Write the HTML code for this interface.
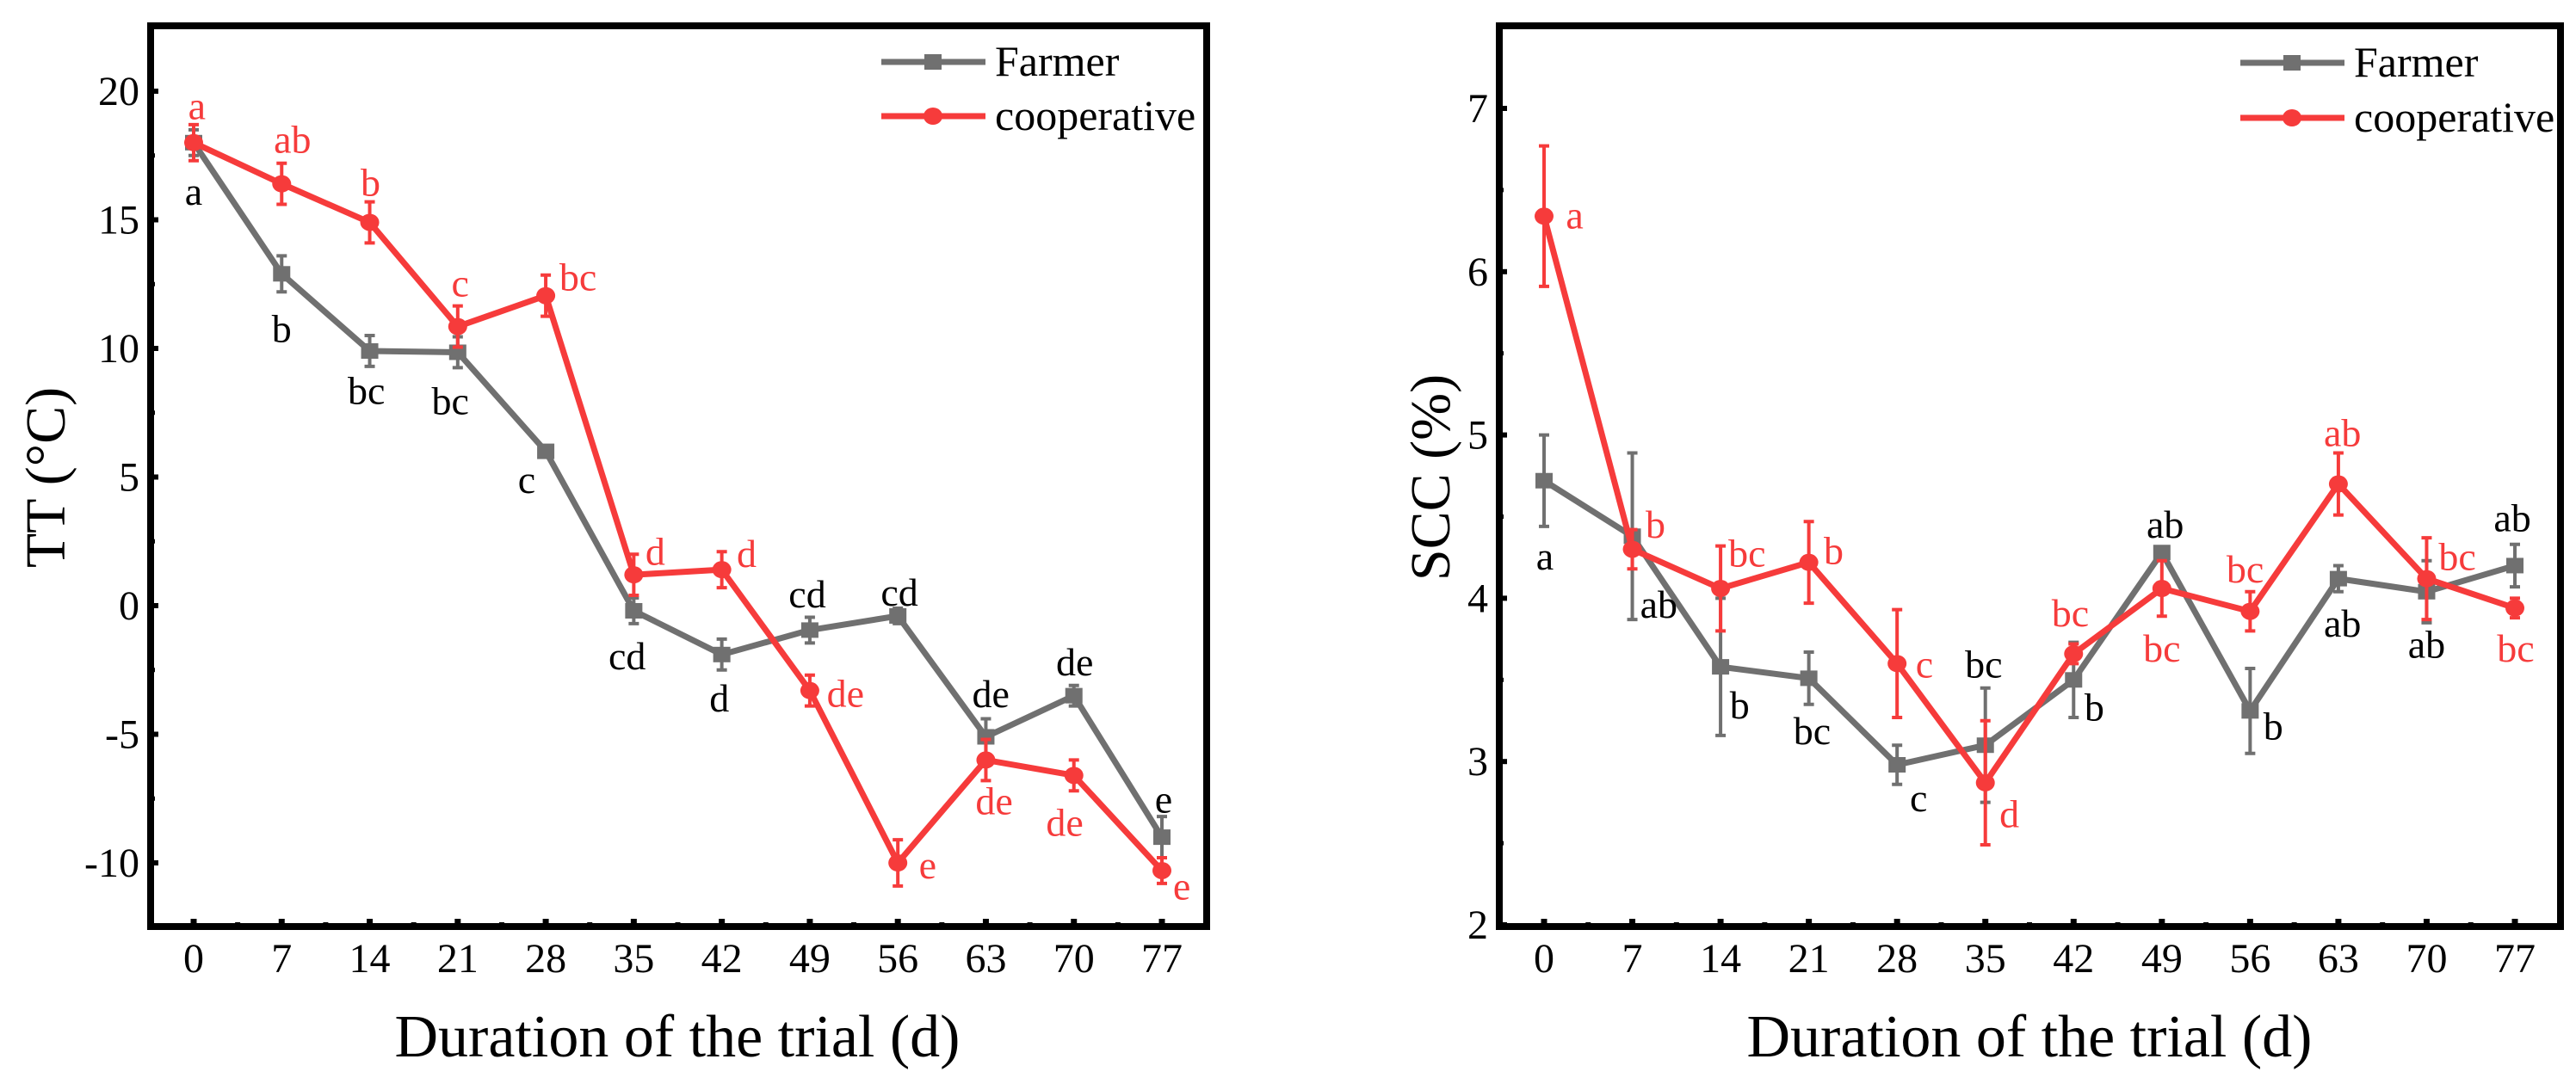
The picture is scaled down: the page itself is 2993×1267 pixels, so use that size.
<!DOCTYPE html>
<html><head><meta charset="utf-8"><style>
html,body{margin:0;padding:0;background:#fff;}
svg, svg text{font-family:"Liberation Serif","Times New Roman",serif;}
</style></head><body>
<svg id="chart" width="2993" height="1262" viewBox="0 0 2993 1262" xmlns="http://www.w3.org/2000/svg" font-family="Liberation Serif, serif"></svg>
<script>
const days = [0,7,14,21,28,35,42,49,56,63,70,77];
// Left panel: TT (°C)
const ttFarmer = [18,12.9,9.9,9.85,6,-0.2,-1.9,-0.95,-0.4,-5.1,-3.5,-9];
const ttFarmerErr = [0.5,0.7,0.6,0.6,0.2,0.5,0.6,0.5,0.3,0.7,0.4,0.8];
const ttCoop = [18,16.4,14.9,10.85,12.05,1.2,1.4,-3.3,-10,-6,-6.6,-10.3];
const ttCoopErr = [0.7,0.8,0.8,0.8,0.8,0.8,0.7,0.6,0.9,0.8,0.6,0.5];
const ttFarmerLetters = ["a","b","bc","bc","c","cd","d","cd","cd","de","de","e"];
const ttCoopLetters = ["a","ab","b","c","bc","d","d","de","e","de","de","e"];
const ttTicks = [-10,-5,0,5,10,15,20];
// Right panel: SCC (%)
const sccFarmer = [4.72,4.38,3.58,3.51,2.98,3.1,3.5,4.28,3.31,4.12,4.04,4.2];
const sccFarmerErr = [0.28,0.51,0.42,0.16,0.12,0.35,0.23,0.03,0.26,0.08,0.19,0.13];
const sccCoop = [6.34,4.3,4.06,4.22,3.6,2.87,3.66,4.06,3.92,4.7,4.12,3.94];
const sccCoopErr = [0.43,0.12,0.26,0.25,0.33,0.38,0.06,0.17,0.12,0.19,0.25,0.06];
const sccFarmerLetters = ["a","ab","b","bc","c","bc","b","ab","b","ab","ab","ab"];
const sccCoopLetters = ["a","b","bc","b","c","d","bc","bc","bc","ab","bc","bc"];
const sccTicks = [2,3,4,5,6,7];

// label offsets (layout, not data)
const OFF = {
 ttF:[[0,72],[0,81],[-4,59],[-9,72],[-23,43],[-8,67],[-3,65],[-3,-50],[2,-32],[6,-60],[1,-47],[2,-53]],
 ttC:[[4,-51],[13,-62],[1,-56],[3,-61],[39,-25],[26,-32],[30,-21],[43,6],[36,5],[10,61],[-11,70],[24,24]],
 sF:[[1,111],[32,100],[23,57],[4,78],[26,50],[-2,-115],[25,41],[4,-39],[28,24],[5,66],[0,78],[-3,-67]],
 sC:[[37,0],[28,-34],[32,-49],[30,-15],[33,3],[29,47],[-4,-57],[0,88],[-6,-59],[5,-72],[37,-30],[1,60]]
};
const SX=0.962, SY=0.805;
const FONT='Liberation Serif, Times New Roman, serif';
const svg=document.getElementById('chart');
const NS='http://www.w3.org/2000/svg';
function mk(tag,attrs,parent){const e=document.createElementNS(NS,tag);for(const k in attrs)e.setAttribute(k,attrs[k]);if(tag==='text')e.setAttribute('font-family',FONT);(parent||svg).appendChild(e);return e;}
const GREY='#707070', RED='#f63b3b';

function panel(cfg){
  const g=mk('g',{});
  
  
  const xS=d=>cfg.x0+(d-0)*(cfg.x77-cfg.x0)/77;
  const yS=v=>cfg.yA+(v-cfg.vA)*(cfg.yB-cfg.yA)/(cfg.vB-cfg.vA);
  cfg.ticks.forEach((t,i)=>{
    const y=yS(t);
    const tk=mk('line',{x1:cfg.L,x2:cfg.L+9,y1:y,y2:y,stroke:'#000','stroke-width':6},g);
    
    
    const lb=mk('text',{x:cfg.ylabX,y:y+16,'text-anchor':'end','font-size':48},g);
    lb.textContent=(t<0?'-'+Math.abs(t):t);
    
    
    if(i<cfg.ticks.length-1){
      const ym=yS((t+cfg.ticks[i+1])/2);
      const mt=mk('line',{x1:cfg.L,x2:cfg.L+5,y1:ym,y2:ym,stroke:'#000','stroke-width':5},g);
      
      
    }
  });
  days.forEach((d,i)=>{
    const x=xS(d);
    const tk=mk('line',{x1:x,x2:x,y1:cfg.B,y2:cfg.B-9,stroke:'#000','stroke-width':7},g);
    
    
    const lb=mk('text',{x:x,y:1130,'text-anchor':'middle','font-size':48},g);
    lb.textContent=d;
    
    
    if(i<days.length-1){
      const xm=xS(d+3.5);
      const mt=mk('line',{x1:xm,x2:xm,y1:cfg.B,y2:cfg.B-5,stroke:'#000','stroke-width':6},g);
      
      
    }
  });
  function series(vals,errs,color,marker,letters,offs,sname){
    const sg=mk('g',{},g);
    
    
    const pts=vals.map((v,i)=>xS(days[i])+','+yS(v)).join(' ');
    const pl=mk('polyline',{points:pts,fill:'none',stroke:color,'stroke-width':7,'stroke-linejoin':'round'},sg);
    
    
    vals.forEach((v,i)=>{
      const x=xS(days[i]),y=yS(v),y1=yS(v+errs[i]),y2=yS(v-errs[i]);
      const eb=mk('path',{d:`M${x},${y1}V${y2}M${x-6},${y1}H${x+6}M${x-6},${y2}H${x+6}`,stroke:color,'stroke-width':4,fill:'none'},sg);
      
      
      let m;
      if(marker==='sq') m=mk('rect',{x:x-10,y:y-9,width:20,height:18,fill:color},sg);
      else m=mk('ellipse',{cx:x,cy:y,rx:11,ry:10,fill:color},sg);
      
      
      const t=mk('text',{x:x+offs[i][0]*SX,y:y+offs[i][1]*SY+14,'text-anchor':'middle','font-size':46,fill:color==GREY?'#000':RED},sg);
      t.textContent=letters[i];
      
      
    });
  }
  series(cfg.f,cfg.fe,GREY,'sq',cfg.fl,cfg.fo,'farmer-series');
  series(cfg.c,cfg.ce,RED,'ci',cfg.cl,cfg.co,'cooperative-series');
  const fr=mk('rect',{x:cfg.L,y:30,width:cfg.R-cfg.L,height:cfg.B-30,fill:'none',stroke:'#000','stroke-width':8},g);
  
  
  const lg=mk('g',{},g);
  
  
  [[GREY,'sq','Farmer',cfg.lgY[0]],[RED,'ci','cooperative',cfg.lgY[1]]].forEach(([c,mkr,lab,y])=>{
    const e=mk('g',{},lg);
    
    
    mk('line',{x1:cfg.lgX,x2:cfg.lgX+121,y1:y,y2:y,stroke:c,'stroke-width':7},e);
    const mx=cfg.lgX+60;
    if(mkr==='sq') mk('rect',{x:mx-10,y:y-9,width:20,height:18,fill:c},e);
    else mk('ellipse',{cx:mx,cy:y,rx:11,ry:10,fill:c},e);
    const t=mk('text',{x:cfg.lgX+132,y:y+16,'font-size':50},e);
    t.textContent=lab;
  });
  const yt=mk('text',{x:0,y:0,'text-anchor':'middle','font-size':66,transform:`translate(${cfg.ytX},555) rotate(-90)`},g);
  yt.textContent=cfg.ytitle;
  
  
  const xt=mk('text',{x:cfg.xtX,y:1228,'text-anchor':'middle','font-size':70},g);
  xt.textContent='Duration of the trial (d)';
  
  
}
panel({name:'tt-panel',L:175,R:1402,B:1077,x0:225,x77:1350,yA:106,vA:20,yB:1003,vB:-10,
  ticks:ttTicks,ylabX:162,f:ttFarmer,fe:ttFarmerErr,c:ttCoop,ce:ttCoopErr,fl:ttFarmerLetters,cl:ttCoopLetters,
  fo:OFF.ttF,co:OFF.ttC,lgX:1024,lgY:[72,135],ytX:75,xtX:787,ytitle:'TT (°C)'});
panel({name:'scc-panel',L:1742,R:2975,B:1077,x0:1794,x77:2922,yA:126,vA:7,yB:1075,vB:2,
  ticks:sccTicks,ylabX:1729,f:sccFarmer,fe:sccFarmerErr,c:sccCoop,ce:sccCoopErr,fl:sccFarmerLetters,cl:sccCoopLetters,
  fo:OFF.sF,co:OFF.sC,lgX:2603,lgY:[73,137],ytX:1684,xtX:2358,ytitle:'SCC (%)'});
</script>
</body></html>
